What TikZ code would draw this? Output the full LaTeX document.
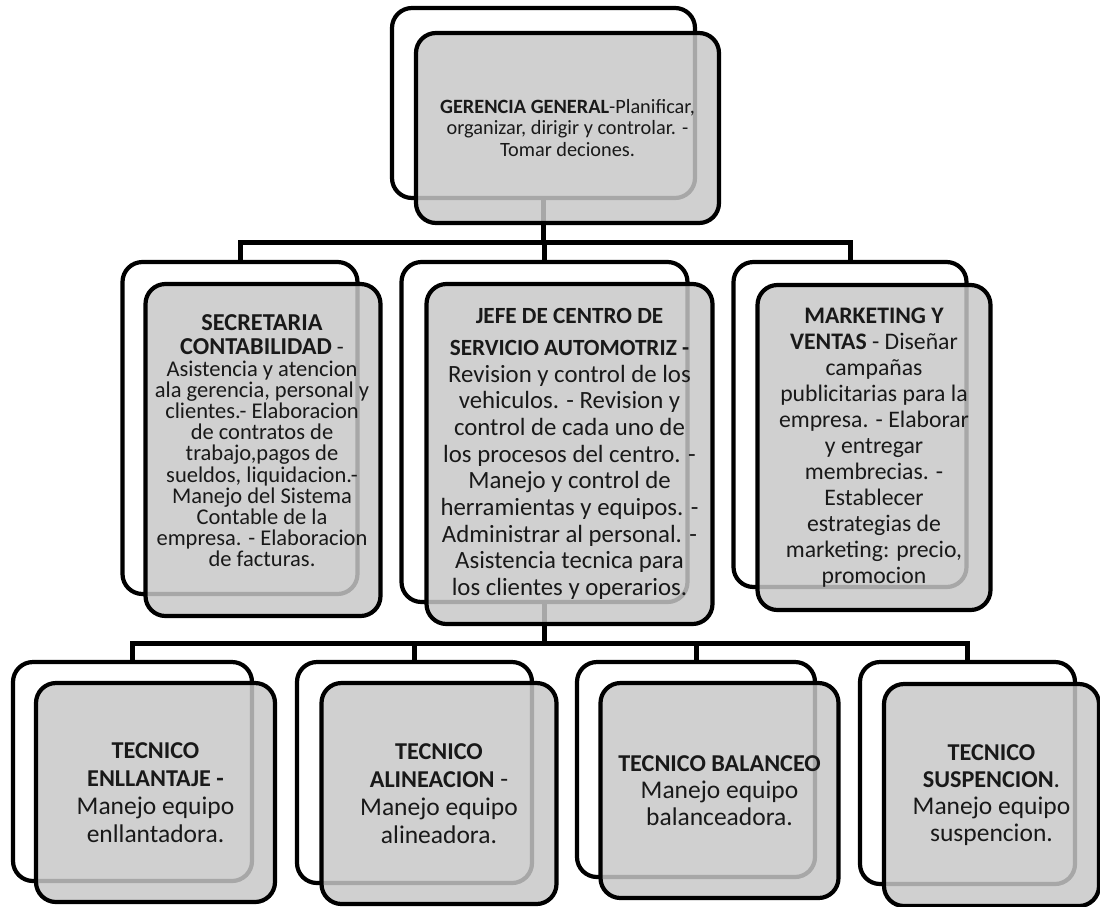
\documentclass[tikz,border=0pt]{standalone}
\usepackage{fontspec}
\setmainfont{Carlito}
% bold heading text in a given size
\newcommand\hd[2]{{\fontsize{#1}{#1}\selectfont\bfseries #2}}
\begin{document}
\begin{tikzpicture}[x=1pt,y=-1pt,
  backbox/.style={draw=black,line width=4.2pt,rounded corners=20pt,fill=white,inner sep=0pt},
  frontbox/.style={draw=black,line width=4.2pt,rounded corners=20pt,fill=black!22,fill opacity=0.84,text opacity=1,inner sep=0pt,align=center,text=black!90},
  boxtext/.style={inner sep=0pt,align=center,text=black!90},
  link/.style={draw=black,line width=5pt}]
\useasboundingbox (0,0) rectangle (1100,906);

% bus lines
\coordinate (busA) at (0,242);
\coordinate (busB) at (0,643);

% back (outline) boxes
\node[backbox,minimum width=303pt,minimum height=190pt] (gerB) at (543.5,103) {};
\node[backbox,minimum width=235pt,minimum height=332pt] (secB) at (240,428) {};
\node[backbox,minimum width=286pt,minimum height=340pt] (jefB) at (544.5,432) {};
\node[backbox,minimum width=233pt,minimum height=325pt] (mktB) at (850,424.5) {};
\node[backbox,minimum width=239pt,minimum height=219pt] (enlB) at (132.5,771.5) {};
\node[backbox,minimum width=235pt,minimum height=221pt] (aliB) at (414.5,772.5) {};
\node[backbox,minimum width=238pt,minimum height=215pt] (balB) at (696,769.5) {};
\node[backbox,minimum width=215pt,minimum height=222pt] (susB) at (967.5,773) {};

% connectors
\draw[link] (gerB.south) -- (gerB.south |- busA);
\draw[link] (gerB.south |- busA) -| (secB.north);
\draw[link] (gerB.south |- busA) -| (jefB.north);
\draw[link] (gerB.south |- busA) -| (mktB.north);
\draw[link] (jefB.south) -- (jefB.south |- busB);
\draw[link] (jefB.south |- busB) -| (enlB.north);
\draw[link] (jefB.south |- busB) -| (aliB.north);
\draw[link] (jefB.south |- busB) -| (balB.north);
\draw[link] (jefB.south |- busB) -| (susB.north);

% front (shaded) boxes with text
\node[frontbox,minimum width=303pt,minimum height=190pt,font=\fontsize{20.3}{21.7}\selectfont] (ger) at (567.5,128)
  {\hd{20.3}{GERENCIA GENERAL}-Planificar,\\ organizar, dirigir y controlar. -\\ Tomar deciones.};

\node[frontbox,minimum width=235pt,minimum height=332pt] (sec) at (263,450) {};
\node[boxtext,font=\fontsize{22.5}{21.2}\selectfont] (secT) at (262,441)
  {\hd{24.3}{SECRETARIA}\\[3pt] \hd{24.3}{CONTABILIDAD} -\\ Asistencia y atencion\\ ala gerencia, personal y\\ clientes.- Elaboracion\\ de contratos de\\ trabajo,pagos de\\ sueldos, liquidacion.-\\ Manejo del Sistema\\ Contable de la\\ empresa. - Elaboracion\\ de facturas.};

\node[frontbox,minimum width=286pt,minimum height=340pt,font=\fontsize{24.8}{26.7}\selectfont] (jef) at (569.5,454)
  {\hd{23.2}{JEFE DE CENTRO DE}\\[5pt] \hd{23.2}{SERVICIO AUTOMOTRIZ -}\\ Revision y control de los\\ vehiculos. - Revision y\\ control de cada uno de\\ los procesos del centro. -\\ Manejo y control de\\ herramientas y equipos. -\\ Administrar al personal. -\\ Asistencia tecnica para\\ los clientes y operarios.};

\node[frontbox,minimum width=233pt,minimum height=325pt,font=\fontsize{23.7}{26}\selectfont] (mkt) at (874,447.5)
  {\hd{23.7}{MARKETING Y}\\ \hd{23.7}{VENTAS} - Diseñar\\ campañas\\ publicitarias para la\\ empresa. - Elaborar\\ y entregar\\ membrecias. -\\ Establecer\\ estrategias de\\ marketing: precio,\\ promocion};

\node[frontbox,minimum width=239pt,minimum height=219pt,font=\fontsize{25.5}{28}\selectfont] (enl) at (155.5,792.5)
  {\hd{24.2}{TECNICO}\\ \hd{24.2}{ENLLANTAJE -}\\ Manejo equipo\\ enllantadora.};

\node[frontbox,minimum width=235pt,minimum height=221pt,font=\fontsize{25.5}{28}\selectfont] (ali) at (439,793.5)
  {\hd{24.2}{TECNICO}\\ \hd{24.2}{ALINEACION} -\\ Manejo equipo\\ alineadora.};

\node[frontbox,minimum width=238pt,minimum height=215pt,font=\fontsize{25.5}{27}\selectfont] (bal) at (719.5,790.5)
  {\hd{24.2}{TECNICO BALANCEO}\\ Manejo equipo\\ balanceadora.};

\node[frontbox,minimum width=215pt,minimum height=222pt,font=\fontsize{25.5}{27}\selectfont] (sus) at (991.5,795)
  {\hd{24.2}{TECNICO}\\ \hd{24.2}{SUSPENCION}.\\ Manejo equipo\\ suspencion.};
\end{tikzpicture}
\end{document}
